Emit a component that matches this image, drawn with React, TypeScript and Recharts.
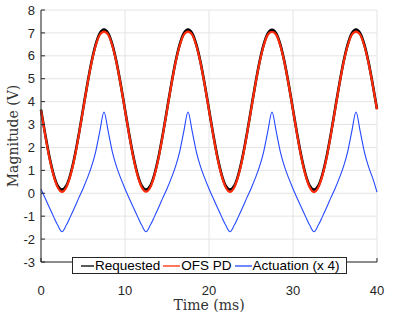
import React from 'react';
import {
  LineChart,
  Line,
  XAxis,
  YAxis,
  CartesianGrid,
  Legend
} from 'recharts';

// Time axis in ms, sampled every 0.5 ms
const TIME = [
  0, 0.5, 1, 1.5, 2, 2.5, 3, 3.5, 4, 4.5, 5, 5.5, 6, 6.5, 7, 7.5, 8, 8.5, 9, 9.5,
  10, 10.5, 11, 11.5, 12, 12.5, 13, 13.5, 14, 14.5, 15, 15.5, 16, 16.5, 17, 17.5, 18, 18.5, 19, 19.5,
  20, 20.5, 21, 21.5, 22, 22.5, 23, 23.5, 24, 24.5, 25, 25.5, 26, 26.5, 27, 27.5, 28, 28.5, 29, 29.5,
  30, 30.5, 31, 31.5, 32, 32.5, 33, 33.5, 34, 34.5, 35, 35.5, 36, 36.5, 37, 37.5, 38, 38.5, 39, 39.5,
  40
];

const REQUESTED = [
  3.65, 2.57, 1.59, 0.82, 0.32, 0.16, 0.32, 0.82, 1.59, 2.57, 3.65, 4.73, 5.71, 6.48, 6.98, 7.15, 6.98, 6.48, 5.71, 4.73,
  3.65, 2.57, 1.59, 0.82, 0.32, 0.16, 0.32, 0.82, 1.59, 2.57, 3.65, 4.73, 5.71, 6.48, 6.98, 7.15, 6.98, 6.48, 5.71, 4.73,
  3.65, 2.57, 1.59, 0.82, 0.32, 0.16, 0.32, 0.82, 1.59, 2.57, 3.65, 4.73, 5.71, 6.48, 6.98, 7.14, 6.98, 6.48, 5.71, 4.73,
  3.65, 2.57, 1.59, 0.82, 0.32, 0.16, 0.32, 0.82, 1.59, 2.57, 3.65, 4.73, 5.71, 6.48, 6.98, 7.15, 6.98, 6.48, 5.71, 4.73,
  3.68
];

const OFS_PD = [
  3.62, 2.54, 1.55, 0.77, 0.25, 0.06, 0.25, 0.77, 1.55, 2.54, 3.62, 4.70, 5.68, 6.43, 6.92, 7.06, 6.92, 6.43, 5.68, 4.70,
  3.62, 2.54, 1.55, 0.77, 0.25, 0.07, 0.25, 0.77, 1.55, 2.54, 3.62, 4.70, 5.68, 6.43, 6.92, 7.06, 6.92, 6.43, 5.68, 4.70,
  3.62, 2.54, 1.55, 0.77, 0.25, 0.06, 0.25, 0.77, 1.55, 2.54, 3.62, 4.70, 5.68, 6.43, 6.92, 7.05, 6.92, 6.43, 5.68, 4.70,
  3.62, 2.54, 1.55, 0.77, 0.25, 0.05, 0.25, 0.77, 1.55, 2.54, 3.62, 4.70, 5.68, 6.43, 6.92, 7.06, 6.92, 6.43, 5.68, 4.70,
  3.66
];

// Actuation signal, already scaled x4
const ACTUATION = [
  0.18, -0.22, -0.62, -1.02, -1.40, -1.68, -1.40, -1.02, -0.62, -0.20, 0.20, 0.65, 1.15, 1.80, 2.70, 3.55, 2.70, 1.80, 1.15, 0.65,
  0.20, -0.22, -0.62, -1.02, -1.40, -1.68, -1.40, -1.02, -0.62, -0.20, 0.20, 0.65, 1.15, 1.80, 2.70, 3.55, 2.70, 1.80, 1.15, 0.65,
  0.20, -0.22, -0.62, -1.02, -1.40, -1.68, -1.40, -1.02, -0.62, -0.20, 0.20, 0.65, 1.15, 1.80, 2.70, 3.55, 2.70, 1.80, 1.15, 0.65,
  0.20, -0.22, -0.62, -1.02, -1.40, -1.68, -1.40, -1.02, -0.62, -0.20, 0.20, 0.65, 1.15, 1.80, 2.70, 3.55, 2.70, 1.80, 1.15, 0.65,
  0.05
];

const X_TICKS = [0, 10, 20, 30, 40];
const Y_TICKS = [-3, -2, -1, 0, 1, 2, 3, 4, 5, 6, 7, 8];

const SERIES = [
  { key: 'requested', name: 'Requested', color: '#000000', width: 2.6 },
  { key: 'ofs', name: 'OFS PD', color: '#ff2a0a', width: 2.2 },
  { key: 'act', name: 'Actuation (x 4)', color: '#2448ff', width: 1.1 }
];

const chartData = TIME.map((t, i) => ({
  t,
  requested: REQUESTED[i],
  ofs: OFS_PD[i],
  act: ACTUATION[i]
}));

const AXIS_COLOR = '#262626';
const SANS = 'Liberation Sans, Arial, sans-serif';
const SERIF = 'DejaVu Serif, Liberation Serif, serif';

// Boxed legend like MATLAB's
const LegendBox = () => (
  <div
    style={{
      display: 'flex',
      alignItems: 'center',
      boxSizing: 'border-box',
      width: 275,
      height: 17,
      border: `1px solid ${AXIS_COLOR}`,
      background: '#fff',
      paddingLeft: 8,
      fontFamily: SANS,
      fontSize: 13.5,
      lineHeight: '15px',
      color: '#000',
      whiteSpace: 'nowrap'
    }}
  >
    {SERIES.map((s, i) => {
      const w = i === 0 ? 13 : 17;
      return (
        <span key={s.key} style={{ display: 'flex', alignItems: 'center', marginLeft: i === 0 ? 0 : 3 }}>
          <svg width={w} height={4} style={{ marginRight: 1 }}>
            <line x1={0} x2={w} y1={2} y2={2} stroke={s.color} strokeWidth={1.3} />
          </svg>
          <span>{s.name}</span>
        </span>
      );
    })}
  </div>
);

// Inward tick marks for the right-hand axis
const RightTick = (props: any) => {
  const { x, y } = props;
  return <line x1={x} x2={x - 4} y1={y} y2={y} stroke={AXIS_COLOR} strokeWidth={1} />;
};

export default function App() {
  return (
    <div style={{ position: 'absolute', left: 0, top: 0, width: 416, height: 317, background: '#fff' }}>
      <LineChart width={416} height={317} data={chartData} margin={{ top: 10, right: 39, left: 0, bottom: 0 }}>
        <CartesianGrid stroke="#e4e4e4" strokeWidth={1} />
        <XAxis
          dataKey="t"
          type="number"
          domain={[0, 40]}
          ticks={X_TICKS}
          interval={0}
          height={38}
          stroke={AXIS_COLOR}
          tickSize={-4}
          tick={{ fontSize: 13, fill: AXIS_COLOR, fontFamily: SANS, dy: 26 }}
          label={{ value: 'Time (ms)', position: 'insideBottom', offset: 2, dy: 12, fontSize: 14, fill: '#333', fontFamily: SERIF }}
        />
        <XAxis xAxisId="top" dataKey="t" type="number" domain={[0, 40]} orientation="top" height={0} tick={false} stroke={AXIS_COLOR} />
        <YAxis
          type="number"
          domain={[-3, 8]}
          ticks={Y_TICKS}
          width={41}
          stroke={AXIS_COLOR}
          tickSize={-4}
          tick={{ fontSize: 13, fill: AXIS_COLOR, fontFamily: SANS, dx: -8 }}
          interval={0}
          label={{ value: 'Magnitude (V)', angle: -90, position: 'insideLeft', offset: 13, style: { textAnchor: 'middle' }, fontSize: 14, fill: '#333', fontFamily: SERIF }}
        />
        <YAxis
          yAxisId="right"
          orientation="right"
          type="number"
          domain={[-3, 8]}
          ticks={Y_TICKS}
          width={0}
          interval={0}
          stroke={AXIS_COLOR}
          tickLine={false}
          tick={<RightTick />}
        />
        <Legend
          content={<LegendBox />}
          wrapperStyle={{ position: 'absolute', left: 72, top: 257, width: 'auto' }}
        />
        {SERIES.map(s => (
          <Line
            key={s.key}
            dataKey={s.key}
            name={s.name}
            stroke={s.color}
            strokeWidth={s.width}
            dot={false}
            type="monotone"
            isAnimationActive={false}
          />
        ))}
      </LineChart>
    </div>
  );
}
